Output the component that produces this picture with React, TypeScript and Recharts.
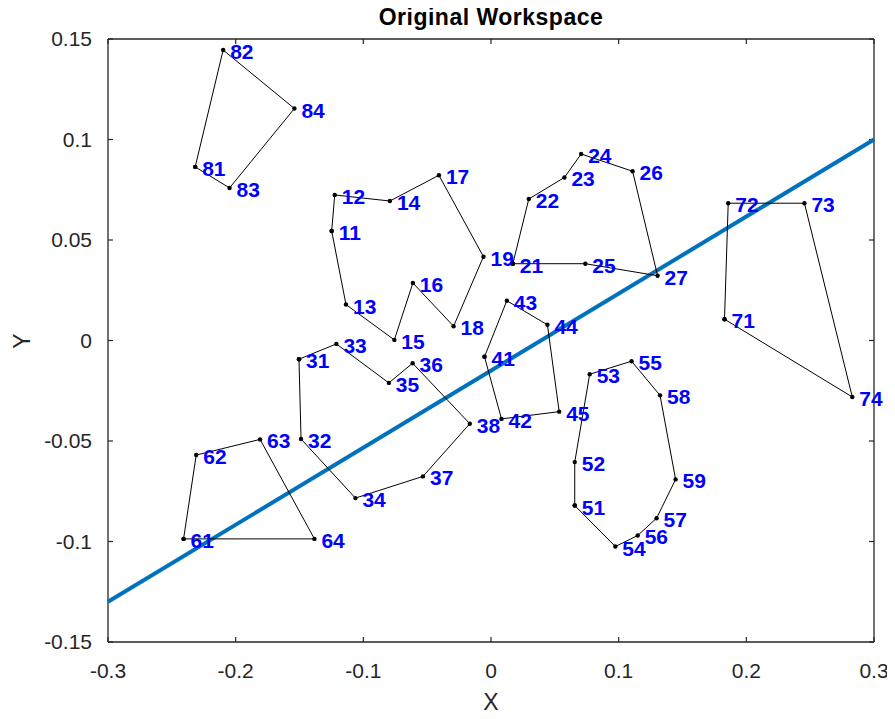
import React from "react";
import { ScatterChart, Scatter, XAxis, YAxis, ReferenceLine } from "recharts";

// polygons, points in drawing order (first point repeated at the end to close)
const poly1 = [
  { id: 81, x: -0.2317, y: 0.0864 },
  { id: 82, x: -0.2098, y: 0.1445 },
  { id: 84, x: -0.154, y: 0.1154 },
  { id: 83, x: -0.2048, y: 0.0759 },
];
const poly2 = [
  { id: 11, x: -0.1248, y: 0.0545 },
  { id: 12, x: -0.1224, y: 0.0724 },
  { id: 14, x: -0.0792, y: 0.0694 },
  { id: 17, x: -0.0408, y: 0.0822 },
  { id: 19, x: -0.0059, y: 0.0417 },
  { id: 18, x: -0.0293, y: 0.0071 },
  { id: 16, x: -0.0612, y: 0.0286 },
  { id: 15, x: -0.0757, y: 0.0003 },
  { id: 13, x: -0.1136, y: 0.0179 },
];
const poly3 = [
  { id: 21, x: 0.0171, y: 0.0382 },
  { id: 22, x: 0.0296, y: 0.0704 },
  { id: 23, x: 0.0575, y: 0.0811 },
  { id: 24, x: 0.0706, y: 0.0928 },
  { id: 26, x: 0.1109, y: 0.0842 },
  { id: 27, x: 0.1305, y: 0.0322 },
  { id: 25, x: 0.0739, y: 0.0382 },
];
const poly4 = [
  { id: 71, x: 0.1829, y: 0.0106 },
  { id: 72, x: 0.1858, y: 0.0683 },
  { id: 73, x: 0.2455, y: 0.0683 },
  { id: 74, x: 0.283, y: -0.0281 },
];
const poly5 = [
  { id: 31, x: -0.1504, y: -0.0093 },
  { id: 33, x: -0.1211, y: -0.0017 },
  { id: 35, x: -0.08, y: -0.0211 },
  { id: 36, x: -0.0614, y: -0.0113 },
  { id: 38, x: -0.0166, y: -0.0414 },
  { id: 37, x: -0.0533, y: -0.0676 },
  { id: 34, x: -0.1062, y: -0.0784 },
  { id: 32, x: -0.1488, y: -0.049 },
];
const poly6 = [
  { id: 61, x: -0.2408, y: -0.0987 },
  { id: 62, x: -0.2309, y: -0.057 },
  { id: 63, x: -0.1809, y: -0.0492 },
  { id: 64, x: -0.1383, y: -0.0987 },
];
const poly7 = [
  { id: 41, x: -0.0051, y: -0.0081 },
  { id: 43, x: 0.0124, y: 0.0198 },
  { id: 44, x: 0.0442, y: 0.0078 },
  { id: 45, x: 0.0534, y: -0.0354 },
  { id: 42, x: 0.0082, y: -0.039 },
];
const poly8 = [
  { id: 51, x: 0.0656, y: -0.0821 },
  { id: 52, x: 0.0656, y: -0.0605 },
  { id: 53, x: 0.0773, y: -0.0168 },
  { id: 55, x: 0.1101, y: -0.0103 },
  { id: 58, x: 0.1324, y: -0.0273 },
  { id: 59, x: 0.1446, y: -0.0691 },
  { id: 57, x: 0.1297, y: -0.0884 },
  { id: 56, x: 0.1149, y: -0.097 },
  { id: 54, x: 0.0974, y: -0.1025 },
];
const polygons = [poly1, poly2, poly3, poly4, poly5, poly6, poly7, poly8];

const fitLine = [
  { x: -0.3, y: -0.13 },
  { x: 0.3, y: 0.1 },
];

const xTicks = [-0.3, -0.2, -0.1, 0, 0.1, 0.2, 0.3];
const yTicks = [-0.15, -0.1, -0.05, 0, 0.05, 0.1, 0.15];
const X_MIN = -0.3, X_MAX = 0.3, Y_MIN = -0.15, Y_MAX = 0.15;
// inward tick length (about 5px) in data units
const TX = 0.0039;
const TY = 0.0025;

const FONT = "'Liberation Sans', Arial, Helvetica, sans-serif";
const AXIS = "#262626";

const Dot = (p: any) => <circle cx={p.cx} cy={p.cy} r={2.2} fill="#000" />;
const Nothing = () => <g />;
const Tag = (p: any) => (
  <text
    x={p.cx + 7}
    y={p.cy + 9}
    fill="#0000ff"
    fontSize={21}
    fontWeight="bold"
    fontFamily={FONT}
  >
    {p.payload.id}
  </text>
);

const allPoints = polygons.flat();

export default function App() {
  return (
    <div style={{ position: "relative", margin: -8, width: 895, height: 719, fontFamily: FONT }}>
      <ScatterChart width={895} height={719} margin={{ top: 39, right: 21, left: 48, bottom: 27 }}>
        <XAxis
          type="number"
          dataKey="x"
          domain={[X_MIN, X_MAX]}
          ticks={xTicks}
          height={50}
          tickLine={false}
          tickMargin={15}
          axisLine={{ stroke: AXIS, strokeWidth: 1.5 }}
          tick={{ fill: AXIS, fontSize: 21, fontFamily: FONT }}
        />
        <YAxis
          type="number"
          dataKey="y"
          domain={[Y_MIN, Y_MAX]}
          ticks={yTicks}
          width={60}
          tickLine={false}
          tickMargin={10}
          axisLine={{ stroke: AXIS, strokeWidth: 1.3 }}
          tick={{ fill: AXIS, fontSize: 21, fontFamily: FONT }}
        />
        {/* box */}
        <ReferenceLine y={Y_MAX} stroke={AXIS} strokeWidth={1.5} ifOverflow="visible" />
        <ReferenceLine x={X_MAX} stroke={AXIS} strokeWidth={1.3} ifOverflow="visible" />
        {/* inward ticks */}
        {xTicks.map((t) => (
          <ReferenceLine key={"b" + t} segment={[{ x: t, y: Y_MIN }, { x: t, y: Y_MIN + TY }]} stroke={AXIS} strokeWidth={1.2} ifOverflow="visible" />
        ))}
        {xTicks.map((t) => (
          <ReferenceLine key={"t" + t} segment={[{ x: t, y: Y_MAX }, { x: t, y: Y_MAX - TY }]} stroke={AXIS} strokeWidth={1.2} ifOverflow="visible" />
        ))}
        {yTicks.map((t) => (
          <ReferenceLine key={"l" + t} segment={[{ x: X_MIN, y: t }, { x: X_MIN + TX, y: t }]} stroke={AXIS} strokeWidth={1.2} ifOverflow="visible" />
        ))}
        {yTicks.map((t) => (
          <ReferenceLine key={"r" + t} segment={[{ x: X_MAX, y: t }, { x: X_MAX - TX, y: t }]} stroke={AXIS} strokeWidth={1.2} ifOverflow="visible" />
        ))}
        <Scatter
          data={fitLine}
          line={{ stroke: "#0072BD", strokeWidth: 4 }}
          shape={Nothing}
          isAnimationActive={false}
        />
        {polygons.map((poly, i) => (
          <Scatter
            key={i}
            data={[...poly, poly[0]]}
            line={{ stroke: "#000", strokeWidth: 1 }}
            shape={Dot}
            isAnimationActive={false}
          />
        ))}
        <Scatter data={allPoints} shape={Tag} isAnimationActive={false} />
      </ScatterChart>
      <div
        style={{
          position: "absolute",
          left: 108,
          width: 766,
          top: 4,
          textAlign: "center",
          fontWeight: "bold",
          fontSize: 23,
          letterSpacing: 0.5,
          color: "#000",
        }}
      >
        Original Workspace
      </div>
      <div
        style={{
          position: "absolute",
          left: 108,
          width: 766,
          top: 689,
          textAlign: "center",
          fontSize: 23,
          color: AXIS,
        }}
      >
        X
      </div>
      <div
        style={{
          position: "absolute",
          left: 22,
          top: 341,
          transform: "translate(-50%, -50%) rotate(-90deg)",
          fontSize: 23,
          color: AXIS,
        }}
      >
        Y
      </div>
    </div>
  );
}
